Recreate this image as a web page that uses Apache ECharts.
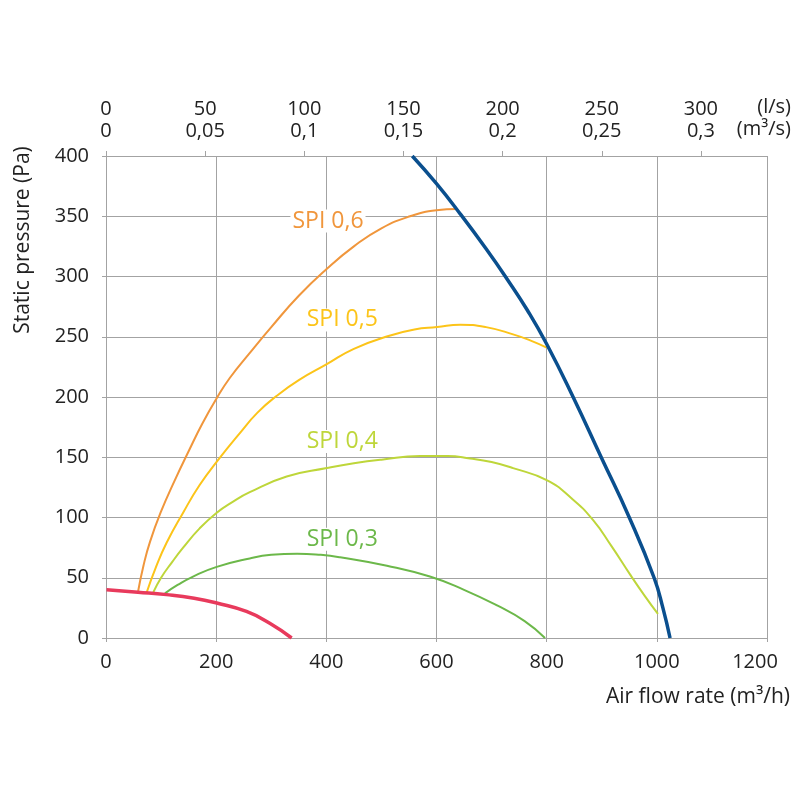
<!DOCTYPE html>
<html>
<head>
<meta charset="utf-8">
<script src="https://cdn.jsdelivr.net/npm/echarts@6/dist/echarts.min.js"></script>
<style>
  html, body { margin: 0; padding: 0; background: #fff; }
  #chart { width: 800px; height: 800px; }
</style>
</head>
<body>
<div id="chart"></div>
<script>
'use strict';

// axis ticks
var flowTicks = [0, 200, 400, 600, 800, 1000, 1200];
var pressureTicks = [0, 50, 100, 150, 200, 250, 300, 350, 400];
var lsTicks = ['0', '50', '100', '150', '200', '250', '300'];
var m3sTicks = ['0', '0,05', '0,1', '0,15', '0,2', '0,25', '0,3'];

// curves [m3/h, Pa]
var maxCurve = [[556, 400], [600, 377], [643, 352], [690, 323], [728, 298], [765, 272], [800, 244], [848, 200], [899, 150], [950, 100], [995, 50], [1011, 25], [1024, 0]];
var minCurve = [[1, 40], [58, 38], [110, 36], [160, 33], [201, 29], [255, 22], [298, 12], [337, 0]];
var spi06 = [[58, 38], [68, 60], [80, 80], [100, 105], [124, 130], [150, 155], [175, 178], [201, 199], [225, 216], [260, 236], [300, 258], [350, 284], [400, 306], [450, 325], [500, 340], [552, 350], [600, 355], [637, 356]];
var spi05 = [[74, 38], [90, 58], [110, 79], [140, 104], [170, 127], [204, 148], [243, 170], [275, 187], [310, 201], [350, 214], [400, 227], [450, 240], [516, 251], [560, 256], [601, 258], [643, 260], [690, 258], [739, 252], [770, 247], [800, 241]];
var spi04 = [[86, 38], [100, 50], [120, 63], [140, 75], [170, 91], [201, 104], [230, 113], [261, 121], [328, 134], [401, 141], [450, 145], [500, 148], [570, 151], [620, 151], [661, 149], [700, 146], [739, 141], [800, 131], [845, 116], [884, 98], [918, 76], [951, 53], [978, 35], [1002, 20]];
var spi03 = [[107, 37], [130, 44], [158, 51], [201, 59], [261, 66], [300, 69], [347, 70], [390, 69], [425, 67], [510, 60], [588, 51], [650, 40], [710, 27], [760, 14], [797, 0]];

// label names and anchor points
var spiNames = ['SPI 0,6', 'SPI 0,5', 'SPI 0,4', 'SPI 0,3'];
var spiLabelAt = [[403, 346], [429, 264], [429, 163], [429, 82]];
var spiColors = ['#f0963c', '#fcc419', '#bed63a', '#6cb84a'];

var font = 'Open Sans';
var gridColor = '#a3a3a3';
var textColor = '#222';

function spiSeries(data, i) {
  return {
    type: 'line',
    data: data,
    smooth: 0.5,
    symbol: 'none',
    z: 3,
    lineStyle: { color: spiColors[i], width: 2 },
    markPoint: {
      symbol: 'circle',
      symbolSize: 0,
      data: [{ coord: spiLabelAt[i] }],
      label: {
        show: true,
        formatter: spiNames[i],
        color: spiColors[i],
        fontFamily: font,
        fontSize: 23,
        backgroundColor: '#fff',
        padding: [0, 2]
      }
    }
  };
}

var chart = echarts.init(document.getElementById('chart'));

chart.setOption({
  animation: false,
  textStyle: { fontFamily: font },
  grid: { left: 106, right: 33, top: 156, bottom: 162 },
  xAxis: [{
    type: 'value',
    position: 'bottom',
    min: 0, max: 1200, interval: 200,
    axisLine: { show: true, lineStyle: { color: gridColor } },
    axisTick: { show: true, length: 4, lineStyle: { color: gridColor } },
    axisLabel: {
      color: textColor, fontSize: 20, margin: 14,
      formatter: function (v) {
        return v === 1200 ? '{m|' + v + '}' : String(v);
      },
      rich: { m: { fontSize: 20, color: textColor, fontFamily: font, padding: [0, 24, 0, 0] } }
    },
    splitLine: { show: true, lineStyle: { color: gridColor, width: 1 } }
  }, {
    type: 'value',
    position: 'top',
    min: 0, max: 1200, interval: 180,
    axisLine: { show: true, lineStyle: { color: gridColor } },
    axisTick: { show: true, length: 5, lineStyle: { color: gridColor } },
    splitLine: { show: false },
    axisLabel: {
      margin: 14,
      showMaxLabel: false,
      formatter: function (v) {
        var i = Math.round(v / 180);
        return '{a|' + lsTicks[i] + '}\n{a|' + m3sTicks[i] + '}';
      },
      rich: { a: { fontSize: 20, color: textColor, lineHeight: 22, fontFamily: font } }
    }
  }],
  yAxis: {
    type: 'value',
    min: 0, max: 400, interval: 50,
    axisLine: { show: true, lineStyle: { color: gridColor } },
    axisTick: { show: true, length: 4, lineStyle: { color: gridColor } },
    axisLabel: { color: textColor, fontSize: 20, margin: 17 },
    splitLine: { show: true, lineStyle: { color: gridColor, width: 1 } }
  },
  graphic: [
    { type: 'text', x: 791, y: 107,
      style: { text: '(l/s)', fontSize: 20, fontFamily: font, fill: textColor, align: 'right', verticalAlign: 'middle' } },
    { type: 'text', x: 791, y: 129,
      style: { text: '(m³/s)', fontSize: 20, fontFamily: font, fill: textColor, align: 'right', verticalAlign: 'middle' } },
    { type: 'text', x: 790, y: 697,
      style: { text: 'Air flow rate (m³/h)', fontSize: 21, fontFamily: font, fill: textColor, align: 'right', verticalAlign: 'middle' } },
    { type: 'text', x: 23, y: 240, rotation: Math.PI / 2,
      style: { text: 'Static pressure (Pa)', fontSize: 21, fontFamily: font, fill: textColor, align: 'center', verticalAlign: 'middle' } }
  ],
  series: [
    spiSeries(spi06, 0),
    spiSeries(spi05, 1),
    spiSeries(spi04, 2),
    spiSeries(spi03, 3),
    { type: 'line', data: maxCurve, smooth: 0.5, symbol: 'none', z: 4, lineStyle: { color: '#0a4f8e', width: 3.5 } },
    { type: 'line', data: minCurve, smooth: 0.5, symbol: 'none', z: 4, lineStyle: { color: '#e83a5c', width: 3.5 } }
  ]
});
</script>
</body>
</html>
